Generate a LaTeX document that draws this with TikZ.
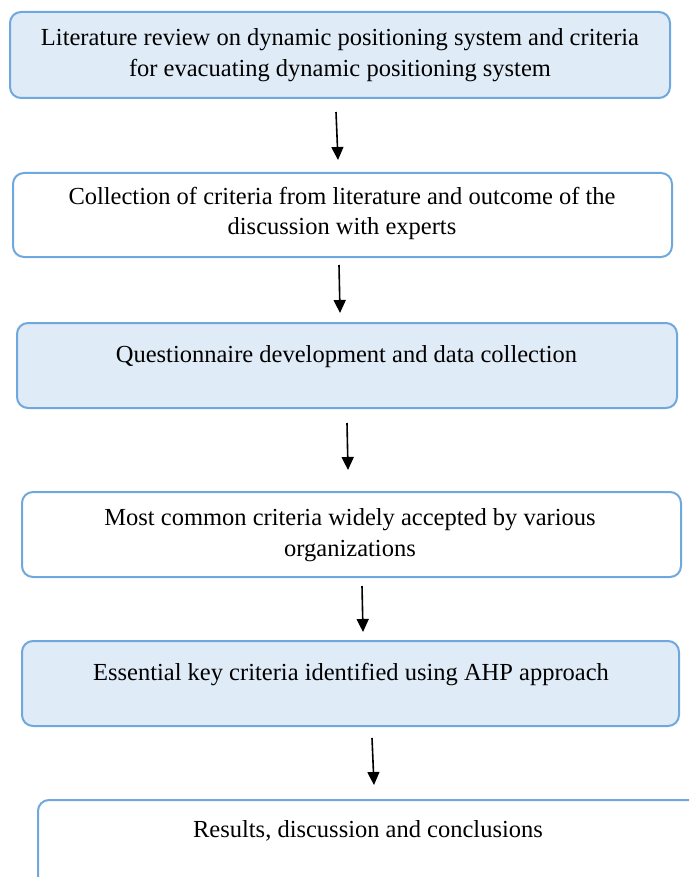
\documentclass[tikz,border=0pt]{standalone}
\usepackage{fontspec}
\setmainfont{Liberation Serif}
\usetikzlibrary{arrows.meta}
\definecolor{boxline}{RGB}{111,168,220}
\definecolor{boxfill}{RGB}{223,235,247}
\tikzstyle{stage} = [draw=boxline, line width=2pt, rounded corners=11pt, inner sep=0pt]
\tikzstyle{shaded} = [stage, fill=boxfill]
\tikzstyle{txt} = [align=center, inner sep=0pt, font=\fontsize{24.5}{30.5}\selectfont]
\tikzstyle{flow} = [-{Triangle[length=13pt,width=12pt]}, line width=1.6pt]

\begin{document}
\begin{tikzpicture}[x=1pt,y=-1pt]
\useasboundingbox (0,0) rectangle (689,877);
\clip (0,0) rectangle (689,877);

% boxes
\node[shaded, minimum width=660pt, minimum height=86pt] (lit) at (340,55) {};
\node[stage, minimum width=659pt, minimum height=84pt] (coll) at (342.5,215) {};
\node[shaded, minimum width=660pt, minimum height=85pt] (quest) at (347,365.5) {};
\node[stage, minimum width=659pt, minimum height=85pt] (common) at (351.5,534.5) {};
\node[shaded, minimum width=657pt, minimum height=85pt] (ahp) at (350.5,683.5) {};
\node[stage, minimum width=682pt, minimum height=120pt] (res) at (379,860) {};

% texts
\node[txt] (litT) at (340,55) {Literature review on dynamic positioning system and criteria\\for evacuating dynamic positioning system};
\node[txt] (collT) at (342,213.5) {Collection of criteria from literature and outcome of the\\discussion with experts};
\node[txt] (questT) at (346.5,357) {Questionnaire development and data collection};
\node[txt] (commonT) at (350,535) {Most common criteria widely accepted by various\\organizations};
\node[txt] (ahpT) at (351,675) {Essential key criteria identified using AHP approach};
\node[txt] (resT) at (368,831) {Results, discussion and conclusions};

% arrows
\coordinate (a1) at (336,112); \coordinate (b1) at (338,160);
\coordinate (a2) at (339,265); \coordinate (b2) at (340,313);
\coordinate (a3) at (347,423); \coordinate (b3) at (348,470);
\coordinate (a4) at (362,586); \coordinate (b4) at (363,632);
\coordinate (a5) at (372,738); \coordinate (b5) at (374,785);
\foreach \i in {1,...,5} {
    \draw[flow] (a\i) -- (b\i);
}
\end{tikzpicture}
\end{document}
